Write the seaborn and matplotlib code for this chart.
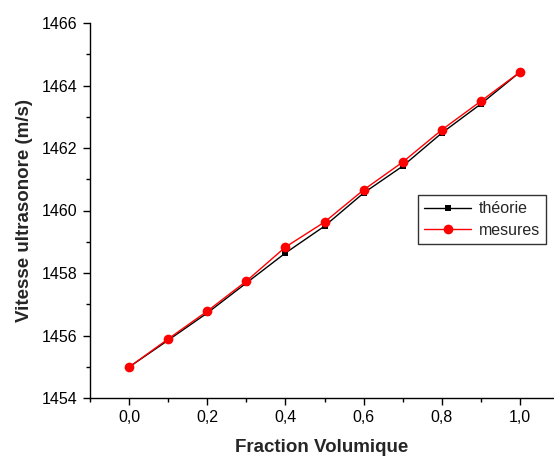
import matplotlib
matplotlib.use("Agg")
import matplotlib.pyplot as plt
from matplotlib.ticker import MultipleLocator, FuncFormatter
import seaborn as sns
import pandas as pd

# Volume fraction and ultrasonic velocity (m/s)
fraction = [0.0, 0.1, 0.2, 0.3, 0.4, 0.5, 0.6, 0.7, 0.8, 0.9, 1.0]
theorie = [1454.99, 1455.85, 1456.72, 1457.68, 1458.64, 1459.50,
           1460.56, 1461.42, 1462.48, 1463.41, 1464.43]
mesures = [1454.99, 1455.89, 1456.78, 1457.74, 1458.83, 1459.63,
           1460.66, 1461.55, 1462.58, 1463.50, 1464.43]
series_names = ["théorie", "mesures"]

sns.set_style("ticks")
plt.rcParams["font.family"] = ["Liberation Sans", "DejaVu Sans"]

df = pd.DataFrame({"x": fraction * 2,
                   "v": theorie + mesures,
                   "serie": [series_names[0]] * len(fraction) + [series_names[1]] * len(fraction)})

fig = plt.figure(figsize=(5.54, 4.59), dpi=100)
ax = fig.add_axes([90 / 554, 1 - 398 / 459, 1 - 90 / 554, 375 / 459])

sns.lineplot(data=df[df.serie == series_names[0]], x="x", y="v", ax=ax,
             color="black", marker="s", markersize=5, linewidth=1,
             markeredgewidth=0, label=series_names[0])
sns.lineplot(data=df[df.serie == series_names[1]], x="x", y="v", ax=ax,
             color="red", marker="o", markersize=7, linewidth=1,
             markeredgewidth=0, label=series_names[1])

ax.set_xlim(-0.1, 1.087)
ax.set_ylim(1454, 1466)
ax.xaxis.set_major_locator(MultipleLocator(0.2))
ax.xaxis.set_minor_locator(MultipleLocator(0.1))
ax.yaxis.set_major_locator(MultipleLocator(2))
ax.yaxis.set_minor_locator(MultipleLocator(1))

comma = FuncFormatter(lambda v, p: f"{v:.1f}".replace(".", ","))
ax.xaxis.set_major_formatter(comma)
ax.yaxis.set_major_formatter(FuncFormatter(lambda v, p: f"{v:.0f}"))

ax.tick_params(which="major", direction="out", length=5, width=1, labelsize=11.5,
               colors="black", pad=4)
ax.tick_params(which="minor", direction="out", length=3, width=1, colors="black")

for s in ["top", "right"]:
    ax.spines[s].set_visible(False)
for s in ["left", "bottom"]:
    ax.spines[s].set_linewidth(1)
    ax.spines[s].set_color("black")

ax.set_xlabel("Fraction Volumique", fontsize=13.5, fontweight="bold", labelpad=10)
ax.set_ylabel("Vitesse ultrasonore (m/s)", fontsize=13.5, fontweight="bold", labelpad=6)

leg = ax.legend(loc="upper left", bbox_to_anchor=((418 - 90) / 464, 1 - (195 - 23) / 375),
                frameon=True, fancybox=False, edgecolor="black", fontsize=11.5,
                handlelength=2.9, borderpad=0.4, labelspacing=0.4, handletextpad=0.5,
                borderaxespad=0)
leg.get_frame().set_linewidth(1)

fig.savefig("out.png", dpi=100)
